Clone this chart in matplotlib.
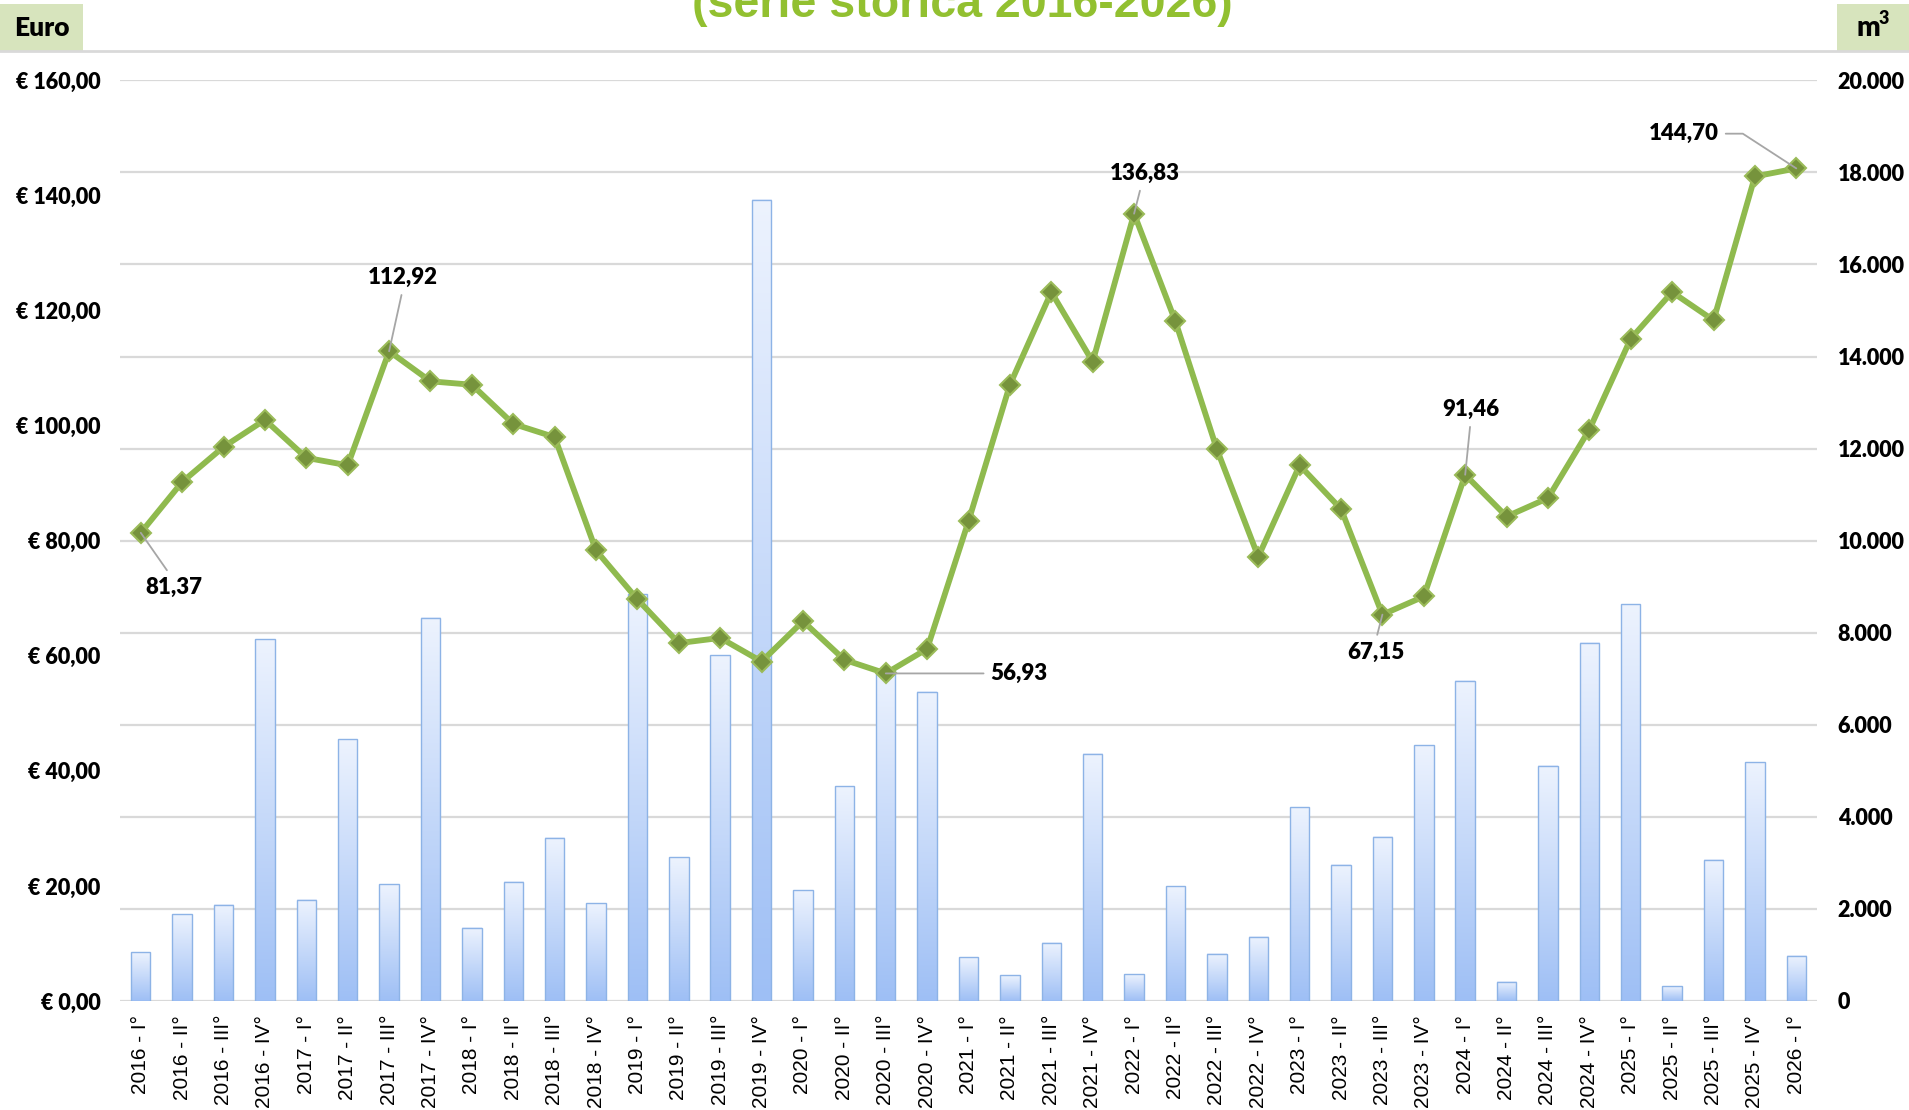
import numpy as np
import matplotlib.pyplot as plt
from matplotlib.lines import Line2D
from matplotlib.patches import Rectangle
from matplotlib.colors import LinearSegmentedColormap
from matplotlib.ticker import FuncFormatter, MultipleLocator

plt.rcParams['font.family'] = ['Lato', 'DejaVu Sans']

## quarters 2016-I ... 2026-I
quarters = ['I°', 'II°', 'III°', 'IV°']
periods = [f'{y} - {q}' for y in range(2016, 2026) for q in quarters] + ['2026 - I°']

## price per m3 (euro, left axis)
prices = [81.37, 90.2, 96.3, 101.0, 94.4, 93.1, 112.92, 107.7, 107.1, 100.3,
          98.0, 78.3, 69.8, 62.2, 63.1, 59.0, 66.0, 59.3, 56.93, 61.2,
          83.4, 107.1, 123.2, 111.1, 136.83, 118.1, 95.9, 77.2, 93.1, 85.5,
          67.15, 70.3, 91.46, 84.2, 87.4, 99.3, 115.1, 123.2, 118.3, 143.3,
          144.70]

## volumes (m3, right axis)
volumes = [1060, 1880, 2090, 7860, 2200, 5690, 2540, 8330, 1590, 2590,
           3550, 2120, 8840, 3120, 7510, 17410, 2410, 4660, 7220, 6720,
           950, 560, 1270, 5370, 580, 2490, 1030, 1400, 4210, 2960,
           3570, 5560, 6960, 420, 5110, 7780, 8620, 320, 3070, 5190,
           980]

## labelled points: index, label offset (pt), leader attach point on text
callouts = [(0, (24, -39), (0.45, 1.0)),
            (6, (10, 53), (0.5, 0.0)),
            (18, (96, 0), (0.0, 0.5)),
            (24, (8, 29), (0.45, 0.0)),
            (30, (-5, -27), (0.5, 1.0)),
            (32, (4, 47), (0.5, 0.0)),
            (40, (-81, 25), (1.0, 0.5))]

BOLD = 'heavy'

fig = plt.figure(figsize=(19.09, 11.10), dpi=100)
ax = fig.add_axes([0.0629, 0.0982, 0.8889, 0.8294])
ax2 = ax.twinx()
ax.set_zorder(2)
ax.patch.set_visible(False)

x = np.arange(len(periods))
w = 0.47

## bars with vertical gradient (blue at bottom, pale at top)
grad = np.linspace(0, 1, 256).reshape(-1, 1)
cmap = LinearSegmentedColormap.from_list('bars', ['#9ebff5', '#edf3fe'])
for xi, v in zip(x, volumes):
    ax2.imshow(grad, cmap=cmap, origin='lower', aspect='auto',
               extent=[xi - w / 2, xi + w / 2, 0, v], zorder=2)
ax2.bar(x, volumes, width=w, facecolor='none', edgecolor='#8db3e6', lw=1.0, zorder=3)

ax2.set_ylim(0, 20000)
ax2.yaxis.set_major_locator(MultipleLocator(2000))
ax2.yaxis.set_major_formatter(FuncFormatter(lambda v, _: f'{int(v):,}'.replace(',', '.')))
ax2.yaxis.grid(True, color='#d9d9d9', lw=1.6)
ax2.set_axisbelow(True)

## price line
ax.plot(x, prices, color='#8fba4e', lw=4.2, marker='D', ms=10,
        mfc='#76933c', mec='#9bbb59', mew=1.5, zorder=4)
ax.set_ylim(0, 160)
ax.yaxis.set_major_locator(MultipleLocator(20))
ax.yaxis.set_major_formatter(FuncFormatter(lambda v, _: '€ ' + f'{v:.2f}'.replace('.', ',')))
ax.set_xlim(-0.5, len(periods) - 0.5)
ax.set_xticks(x)
ax.set_xticklabels(periods, rotation=90, family='Liberation Sans', fontsize=15)

for a in (ax, ax2):
    for s in a.spines.values():
        s.set_visible(False)
ax.tick_params(axis='x', length=0, pad=10)
ax.tick_params(axis='y', length=0, pad=14, labelsize=15.5)
ax2.tick_params(axis='y', length=0, pad=15, labelsize=15.5)
for lab in ax.get_yticklabels() + ax2.get_yticklabels():
    lab.set_fontweight(BOLD)

for i, off, rp in callouts:
    txt = f'{prices[i]:.2f}'.replace('.', ',')
    conn = 'angle,angleA=0,angleB=147,rad=0' if i == 40 else 'arc3'
    ax.annotate(txt, xy=(i, prices[i]), xytext=off, textcoords='offset points',
                ha='center', va='center', fontsize=16, fontweight=BOLD,
                arrowprops=dict(arrowstyle='-', color='#a6a6a6', lw=1.3,
                                shrinkA=3, shrinkB=0, relpos=rp,
                                connectionstyle=conn), zorder=5)

## header: separator line, unit boxes, (cut) title
fig.add_artist(Line2D([0, 1], [0.954, 0.954], transform=fig.transFigure,
                      color='#d9d9d9', lw=2))
fig.add_artist(Rectangle((0, 0.954), 0.0435, 0.0425, transform=fig.transFigure,
                         facecolor='#d7e4bd', edgecolor='none'))
fig.add_artist(Rectangle((0.9623, 0.954), 0.0377, 0.0425, transform=fig.transFigure,
                         facecolor='#d7e4bd', edgecolor='none'))
fig.text(0.0217, 0.9752, 'Euro', ha='center', va='center', fontsize=19, fontweight=BOLD)
fig.text(0.9787, 0.9752, 'm', ha='center', va='center', fontsize=20, fontweight=BOLD)
fig.text(0.9868, 0.9835, '3', ha='center', va='center', fontsize=13, fontweight=BOLD)
fig.text(0.504, 1 - 17 / 1110, '(serie storica 2016-2026)', ha='center', va='baseline',
         fontsize=33.5, fontweight='bold', family='Liberation Sans', color='#92c030')

fig.savefig('out.png', dpi=100)
